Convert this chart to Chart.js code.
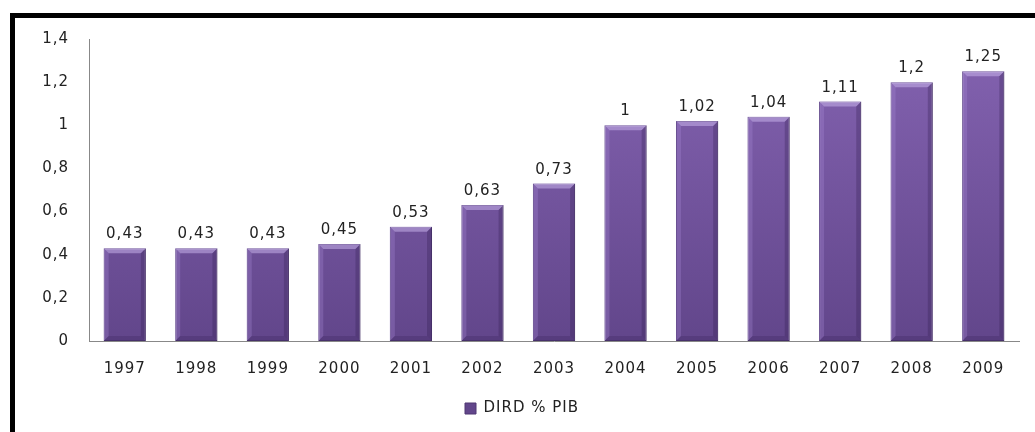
<!DOCTYPE html>
<html>
<head>
<meta charset="utf-8">
<script src="https://cdn.jsdelivr.net/npm/chart.js@4/dist/chart.umd.min.js"></script>
<style>
  html, body { margin: 0; padding: 0; background: #fff; overflow: hidden; }
  #frame {
    position: absolute; left: 10px; top: 13px; width: 1100px; height: 500px;
    border: 5px solid #000; background: #fff;
  }
  #wrap { position: absolute; left: 15px; top: 18px; width: 1020px; height: 414px; }
</style>
</head>
<body>
<div id="frame"></div>
<div id="wrap"><canvas id="c"></canvas></div>
<script>
// data
const years = ["1997", "1998", "1999", "2000", "2001", "2002", "2003", "2004", "2005", "2006", "2007", "2008", "2009"];
const dirdPib = [0.43, 0.43, 0.43, 0.45, 0.53, 0.63, 0.73, 1, 1.02, 1.04, 1.11, 1.2, 1.25];
const seriesName = "DIRD % PIB";

const fmt = (v) => String(v).replace(".", ",");

// bar fill: vertical purple gradient
function barFill(ctx) {
  const area = ctx.chart.chartArea;
  if (!area) return "#7a5aa6";
  const g = ctx.chart.ctx.createLinearGradient(0, area.top, 0, area.bottom);
  g.addColorStop(0, "#8463b1");
  g.addColorStop(1, "#62468b");
  return g;
}

// the reference text is set a bit wide
const spacing = {
  id: "spacing",
  beforeDraw(chart) { chart.ctx.letterSpacing = "1px"; }
};

// bevel edges + value labels above the bars
const bevelAndLabels = {
  id: "bevelAndLabels",
  afterDatasetsDraw(chart) {
    const ctx = chart.ctx;
    const meta = chart.getDatasetMeta(0);
    meta.data.forEach((bar, i) => {
      const p = bar.getProps(["x", "y", "base", "width"], true);
      const l = p.x - p.width / 2, r = p.x + p.width / 2, t = p.y, b = p.base;
      const e = 5;
      ctx.save();
      // top bevel
      ctx.fillStyle = "rgba(205,185,240,0.5)";
      ctx.beginPath();
      ctx.moveTo(l, t); ctx.lineTo(r, t); ctx.lineTo(r - e, t + e); ctx.lineTo(l + e, t + e);
      ctx.closePath(); ctx.fill();
      // left bevel
      ctx.fillStyle = "rgba(170,140,215,0.3)";
      ctx.beginPath();
      ctx.moveTo(l, t); ctx.lineTo(l + e, t + e); ctx.lineTo(l + e, b - e); ctx.lineTo(l, b);
      ctx.closePath(); ctx.fill();
      // right bevel
      ctx.fillStyle = "rgba(50,30,80,0.3)";
      ctx.beginPath();
      ctx.moveTo(r, t); ctx.lineTo(r - e, t + e); ctx.lineTo(r - e, b - e); ctx.lineTo(r, b);
      ctx.closePath(); ctx.fill();
      // bottom bevel
      ctx.fillStyle = "rgba(40,20,70,0.2)";
      ctx.beginPath();
      ctx.moveTo(l, b); ctx.lineTo(r, b); ctx.lineTo(r - e, b - e); ctx.lineTo(l + e, b - e);
      ctx.closePath(); ctx.fill();
      // value
      ctx.letterSpacing = "1px";
      ctx.fillStyle = "#222";
      ctx.font = "15px 'DejaVu Sans'";
      ctx.textAlign = "center";
      ctx.textBaseline = "alphabetic";
      ctx.fillText(fmt(dirdPib[i]), p.x, t - 10);
      ctx.restore();
    });
  }
};

new Chart(document.getElementById("c"), {
  type: "bar",
  data: {
    labels: years,
    datasets: [{
      label: seriesName,
      data: dirdPib,
      backgroundColor: barFill,
      borderColor: "#4e3773",
      borderWidth: 1,
      borderSkipped: false,
      categoryPercentage: 1,
      barPercentage: 0.59
    }]
  },
  options: {
    responsive: true,
    maintainAspectRatio: false,
    animation: false,
    layout: { padding: { top: 5, right: 16, left: 0, bottom: 6 } },
    scales: {
      y: {
        min: 0, max: 1.4,
        ticks: {
          stepSize: 0.2, padding: 12, color: "#222",
          font: { family: "DejaVu Sans", size: 15 },
          callback: (v) => fmt(Math.round(v * 10) / 10)
        },
        grid: { display: false },
        border: { color: "#888" },
        afterFit: (s) => { s.width = 74; }
      },
      x: {
        ticks: { padding: 11, color: "#222", font: { family: "DejaVu Sans", size: 15 } },
        grid: { display: false },
        border: { color: "#888" },
        afterFit: (s) => { s.height = 50; }
      }
    },
    plugins: {
      legend: {
        position: "bottom",
        labels: {
          boxWidth: 11, boxHeight: 11, color: "#222", padding: 10,
          font: { family: "DejaVu Sans", size: 15 }
        }
      },
      tooltip: { enabled: false }
    }
  },
  plugins: [spacing, bevelAndLabels]
});
</script>
</body>
</html>
